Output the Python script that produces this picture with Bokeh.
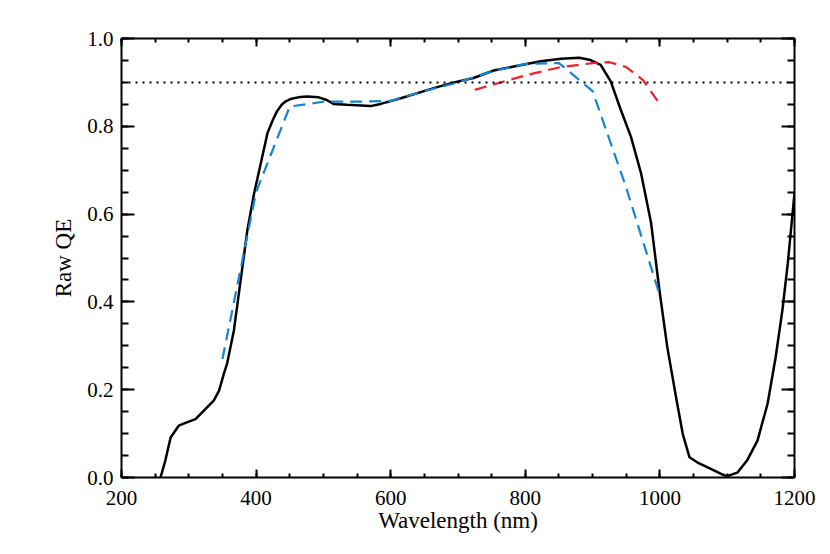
from bokeh.plotting import figure
from bokeh.models import Range1d, LinearAxis, SingleIntervalTicker, PrintfTickFormatter, Span
from bokeh.embed import file_html
from bokeh.resources import INLINE

# Black: measured raw QE
wl_black = [258, 265, 273, 285, 298, 310, 322, 337, 345, 352, 357, 367, 377, 387, 397, 407, 417,
            425, 431, 438, 444, 451, 466, 476, 493, 505, 515, 535, 570, 585, 615, 664, 694, 723, 753, 783,
            823, 853, 880, 897, 912, 927, 942, 957, 972, 987, 999, 1011, 1024, 1034, 1044, 1056,
            1071, 1091, 1100, 1115, 1130, 1145, 1160, 1172, 1182, 1190, 1197, 1200]
qe_black = [0.0, 0.038, 0.091, 0.118, 0.126, 0.133, 0.152, 0.175, 0.198, 0.236, 0.26, 0.335, 0.449,
            0.563, 0.647, 0.716, 0.785, 0.815, 0.834, 0.849, 0.857, 0.862, 0.867, 0.868, 0.866, 0.860, 0.851,
            0.849, 0.846, 0.851, 0.864, 0.887, 0.900, 0.910, 0.927, 0.936, 0.948, 0.954, 0.956,
            0.951, 0.940, 0.902, 0.837, 0.776, 0.693, 0.579, 0.43, 0.297, 0.183, 0.099, 0.046,
            0.034, 0.023, 0.008, 0.003, 0.011, 0.04, 0.084, 0.168, 0.274, 0.381, 0.487, 0.60, 0.647]

# Blue dashed model
wl_blue = [350, 400, 450, 500, 550, 600, 650, 700, 750, 800, 850, 900, 950, 1000]
qe_blue = [0.27, 0.65, 0.845, 0.856, 0.856, 0.858, 0.88, 0.90, 0.925, 0.942, 0.944, 0.88, 0.66, 0.414]

# Red dashed model
wl_red = [725, 750, 800, 850, 900, 925, 950, 975, 1000]
qe_red = [0.883, 0.894, 0.916, 0.934, 0.944, 0.946, 0.935, 0.905, 0.85]

ref_level = 0.9

FONT = "Liberation Serif"

p = figure(width=822, height=546, output_backend="svg", toolbar_location=None,
           x_range=Range1d(200, 1200), y_range=Range1d(0, 1.0),
           min_border_left=121, min_border_right=28, min_border_top=38, min_border_bottom=69,
           x_axis_label="Wavelength (nm)", y_axis_label="Raw QE")
p.grid.visible = False
p.outline_line_color = None
p.background_fill_color = "white"
p.border_fill_color = "white"

p.add_layout(Span(location=ref_level, dimension="width", line_color="black",
                  line_width=2, line_dash="2 5"))

p.line(wl_black, qe_black, line_color="black", line_width=2.5)
p.line(wl_blue, qe_blue, line_color="#1585d0", line_width=2.2, line_dash="12 7")
p.line(wl_red, qe_red, line_color="#ec2229", line_width=2.2, line_dash="12 7")

xt = SingleIntervalTicker(interval=200, num_minor_ticks=4)
yt = SingleIntervalTicker(interval=0.2, num_minor_ticks=4)

def style(ax, ticker, major, minor, labels):
    ax.ticker = ticker
    ax.axis_line_width = 2
    ax.axis_line_color = "black"
    ax.major_tick_in = major
    ax.major_tick_out = 0
    ax.minor_tick_in = minor
    ax.minor_tick_out = 0
    ax.major_tick_line_width = 2
    ax.minor_tick_line_width = 2
    ax.major_tick_line_color = "black"
    ax.minor_tick_line_color = "black"
    ax.major_label_text_font = FONT
    ax.major_label_text_font_size = "21px"
    ax.major_label_text_color = "black" if labels else None
    ax.axis_label_text_font = FONT
    ax.axis_label_text_font_size = "23px"
    ax.axis_label_text_font_style = "normal"
    ax.axis_label_text_color = "black"

style(p.xaxis[0], xt, 8, 4, True)
p.xaxis[0].major_label_standoff = 13
p.xaxis[0].axis_label_standoff = 0
style(p.yaxis[0], yt, 13, 7, True)
p.yaxis[0].formatter = PrintfTickFormatter(format="%.1f")
p.yaxis[0].major_label_standoff = 8
p.yaxis[0].axis_label_standoff = 8

top = LinearAxis()
style(top, SingleIntervalTicker(interval=200, num_minor_ticks=4), 8, 4, False)
top.major_label_text_font_size = "0px"
top.major_label_standoff = 0
p.add_layout(top, "above")

right = LinearAxis()
style(right, SingleIntervalTicker(interval=0.2, num_minor_ticks=4), 13, 7, False)
right.major_label_text_font_size = "0px"
right.major_label_standoff = 0
p.add_layout(right, "right")

open("out.html", "w").write(file_html(p, INLINE))
